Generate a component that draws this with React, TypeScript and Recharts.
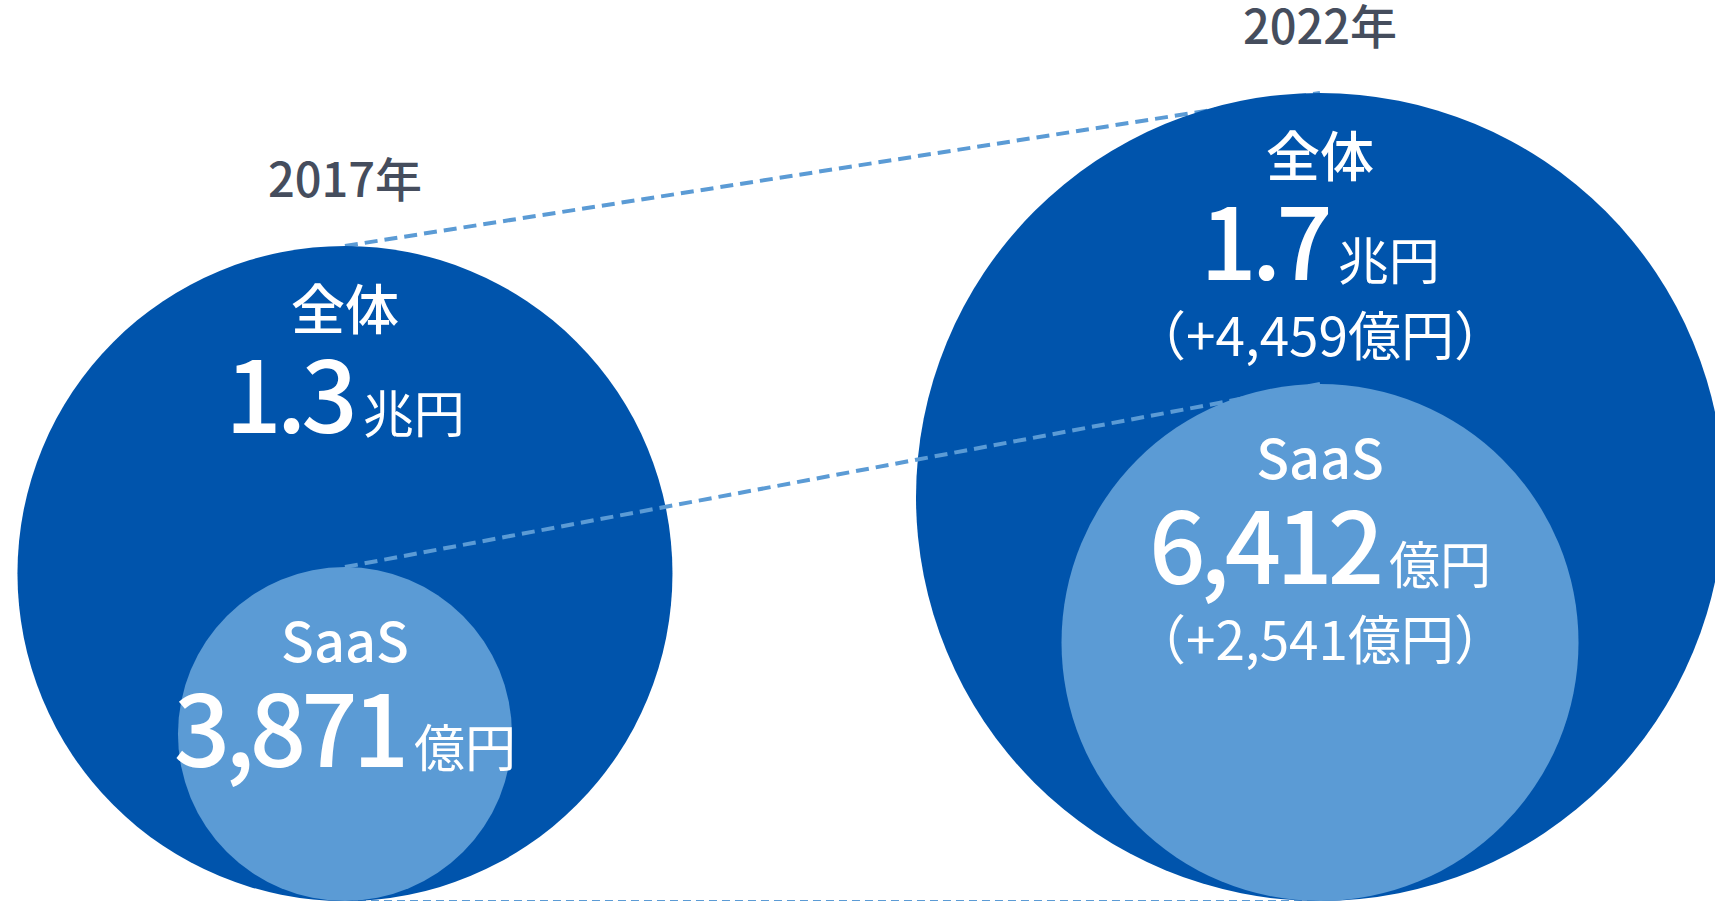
import React from 'react';
import { ScatterChart, Scatter, XAxis, YAxis } from 'recharts';

// --- data ---
const YEARS = ['2017年', '2022年'];
const TOTAL_CHO = [1.3, 1.7]; // 全体 市場規模 (兆円)
const TOTAL_DIFF = [null, 4459]; // 増加分 (億円)
const SAAS_OKU = [3871, 6412]; // SaaS 市場規模 (億円)
const SAAS_DIFF = [null, 2541];

// --- layout ---
const W = 1715;
const H = 901;
const X_DOMAIN = [-0.3538, 1.4051];
const TOTAL_DOMAIN = [-0.4125, 1.9431];
const SAAS_DOMAIN = [-766.6, 11744];

const DARK = '#0054AC';
const LIGHT = '#5B9BD5';
const GRAY = '#454D5D';
const FONT = '"Noto Sans CJK JP", "Noto Sans", sans-serif';

const fmt = (n: number) => n.toLocaleString('en-US');

const totalData = YEARS.map((year, i) => ({
    x: i, y: TOTAL_CHO[i], year, title: '全体',
    value: TOTAL_CHO[i].toFixed(1), unit: '兆円', diff: TOTAL_DIFF[i],
}));
const saasData = YEARS.map((year, i) => ({
    x: i, y: SAAS_OKU[i], year, title: 'SaaS',
    value: fmt(SAAS_OKU[i]), unit: '億円', diff: SAAS_DIFF[i],
}));
const baseData = YEARS.map((_, i) => ({ x: i, y: TOTAL_DOMAIN[0] }));

type Offsets = { title: number; value: number; diff: number };

// circle sits on the baseline, its top is the scatter point
const bubble = (fill: string, off: Offsets, showYear: boolean) => (props: any) => {
    const { cx, cy, payload } = props;
    const r = (H - cy) / 2;
    return (
        <g fontFamily={FONT}>
            <circle cx={cx} cy={cy + r} r={r} fill={fill} />
            {showYear && (
                <text x={cx} y={cy - 49} textAnchor="middle" fill={GRAY} fontSize={47} fontWeight={500}>
                    {payload.year}
                </text>
            )}
            <text x={cx} y={cy + off.title} textAnchor="middle" fill="#fff" fontSize={54} fontWeight={500}>
                {payload.title}
            </text>
            <text x={cx} y={cy + off.value} textAnchor="middle" fill="#fff">
                <tspan fontSize={99} fontWeight={500} letterSpacing={-5}>{payload.value}</tspan>
                <tspan fontSize={51} fontWeight={400} dx={10}>{payload.unit}</tspan>
            </text>
            {payload.diff != null && (
                <text x={cx} y={cy + off.diff} textAnchor="middle" fill="#fff" fontSize={53} fontWeight={400}>
                    {`（+${fmt(payload.diff)}億円）`}
                </text>
            )}
        </g>
    );
};

const App: React.FC = () => {
    return (
        <div style={{ position: 'absolute', left: 0, top: 0, width: W, height: H, background: '#fff', overflow: 'hidden' }}>
            <ScatterChart width={W} height={H} margin={{ top: 0, right: 0, bottom: 0, left: 0 }}>
                <XAxis type="number" dataKey="x" domain={X_DOMAIN} allowDataOverflow hide />
                <YAxis yAxisId="total" type="number" dataKey="y" domain={TOTAL_DOMAIN} allowDataOverflow hide />
                <YAxis yAxisId="saas" type="number" dataKey="y" domain={SAAS_DOMAIN} allowDataOverflow hide />

                {/* baseline connector */}
                <Scatter
                    yAxisId="total"
                    data={baseData}
                    shape={() => <g />}
                    line={{ stroke: LIGHT, strokeWidth: 2, strokeDasharray: '8 5' }}
                    isAnimationActive={false}
                />
                <Scatter
                    yAxisId="total"
                    data={totalData}
                    shape={bubble(DARK, { title: 84, value: 187, diff: 263 }, true)}
                    line={{ stroke: LIGHT, strokeWidth: 4, strokeDasharray: '13 7' }}
                    isAnimationActive={false}
                />
                <Scatter
                    yAxisId="saas"
                    data={saasData}
                    shape={bubble(LIGHT, { title: 95, value: 200, diff: 276 }, false)}
                    line={{ stroke: LIGHT, strokeWidth: 4, strokeDasharray: '13 7' }}
                    isAnimationActive={false}
                />
            </ScatterChart>
        </div>
    );
};

export default App;
